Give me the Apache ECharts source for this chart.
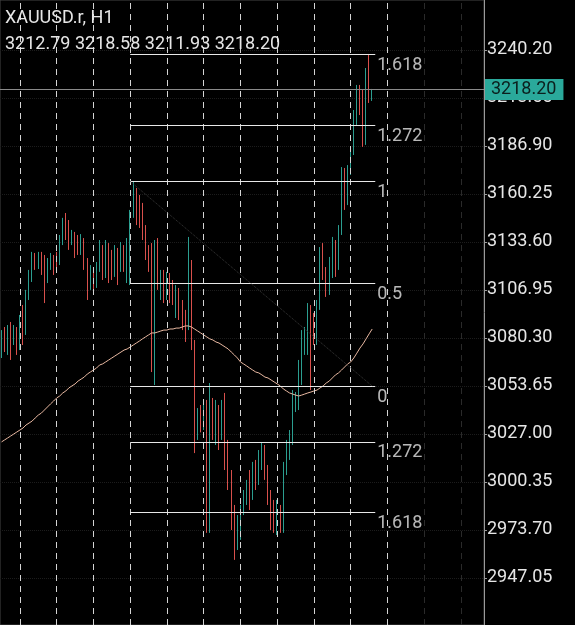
<!DOCTYPE html>
<html>
<head>
<meta charset="utf-8">
<script src="https://cdn.jsdelivr.net/npm/echarts@6/dist/echarts.min.js"></script>
<style>
  html, body { margin: 0; padding: 0; background: #000; }
  #chart { width: 575px; height: 625px; }
</style>
</head>
<body>
<div id="chart"></div>
<script>
(function () {
  const SYMBOL = "XAUUSD.r, H1";

  // H1 candles (oldest first)
  const opens = [
    3073.6,3082.0,3076.4,3083.6,3078.1,3084.7,3076.4,3090.3,3084.7,3104.2,
    3113.6,3124.7,3122.5,3126.4,3120.8,3112.5,3122.5,3124.7,3126.4,3122.5,
    3134.7,3144.7,3141.4,3134.7,3137.5,3134.7,3129.2,3134.7,3122.5,3109.7,
    3117.0,3109.7,3119.2,3126.4,3117.0,3129.2,3124.7,3117.0,3126.4,3119.2,
    3129.2,3122.5,3131.9,3148.6,3159.7,3154.1,3151.4,3140.3,3129.2,3122.5,
    3076.4,3115.3,3109.7,3113.6,3105.8,3112.5,3109.7,3101.4,3105.8,3098.6,
    3093.1,3087.5,3120.8,3076.4,3029.2,3037.5,3032.0,3040.3,2984.8,3045.9,
    3032.0,3040.3,3029.2,3040.3,3018.1,3001.5,2982.0,2965.4,2976.5,2984.8,
    2990.4,2995.9,2993.1,3007.0,3001.5,3012.6,3017.0,3007.0,2993.1,2983.7,
    2979.3,2984.8,2976.5,3007.0,3015.3,3023.7,3045.9,3047.0,3057.0,3073.6,
    3073.6,3095.9,3091.4,3079.2,3098.6,3126.4,3115.3,3105.8,3120.8,3129.2,
    3120.8,3140.3,3165.2,3156.9,3173.6,3184.7,3201.3,3216.9,3209.7,3190.2,
    3226.3,3212.79
  ];
  const closes = [
    3082.0,3076.4,3083.6,3078.1,3084.7,3076.4,3090.3,3084.7,3104.2,3113.6,
    3124.7,3122.5,3126.4,3118.1,3112.5,3122.5,3124.7,3119.2,3122.5,3134.7,
    3144.7,3141.4,3134.7,3137.5,3129.2,3131.9,3134.7,3122.5,3109.7,3117.0,
    3109.7,3119.2,3126.4,3117.0,3129.2,3120.8,3117.0,3126.4,3118.1,3129.2,
    3122.5,3131.9,3148.6,3159.7,3154.1,3148.6,3140.3,3129.2,3120.8,3076.4,
    3115.3,3111.4,3113.6,3105.8,3112.5,3104.2,3101.4,3105.8,3095.9,3090.3,
    3085.8,3120.8,3079.2,3029.2,3037.5,3032.0,3037.5,2990.4,3045.9,3032.0,
    3040.3,3029.2,3037.5,3018.1,3001.5,2979.3,2965.4,2976.5,2984.8,2990.4,
    2995.9,2990.4,3007.0,3001.5,3013.7,3018.1,3007.0,2993.1,2982.0,2979.3,
    2984.8,2978.2,3007.0,3015.3,3023.7,3045.9,3048.6,3057.0,3073.6,3082.0,
    3095.9,3076.4,3079.2,3098.6,3126.4,3115.3,3105.8,3120.8,3129.2,3120.8,
    3140.3,3165.2,3156.9,3173.6,3183.6,3201.3,3216.9,3206.9,3190.2,3226.3,
    3212.8,3218.20
  ];
  const lows = [
    3069.2,3072.5,3070.9,3068.1,3076.4,3070.9,3073.6,3076.4,3082.0,3101.4,
    3111.4,3118.1,3118.6,3115.3,3099.7,3110.8,3118.1,3115.3,3117.0,3120.8,
    3131.9,3134.7,3129.2,3131.9,3124.7,3126.4,3126.4,3118.1,3101.4,3107.0,
    3107.0,3108.1,3117.0,3112.5,3113.6,3110.8,3112.5,3114.2,3109.7,3117.0,
    3117.0,3110.8,3109.7,3147.0,3143.0,3141.4,3134.7,3123.6,3117.0,3061.4,
    3054.2,3107.0,3101.4,3099.7,3101.4,3099.7,3098.6,3091.4,3090.3,3084.7,
    3078.1,3084.7,3073.6,3016.4,3023.7,3027.9,3029.2,2972.1,2972.1,3023.7,
    3020.9,3018.1,3023.7,3007.0,2995.9,2973.7,2957.1,2962.6,2968.2,2982.0,
    2987.6,2984.8,2990.4,2995.9,2998.7,3007.0,3001.5,2987.6,2973.7,2972.1,
    2970.9,2972.1,2972.1,3004.2,3012.6,3020.9,3039.2,3040.3,3054.2,3070.9,
    3070.9,3051.4,3076.4,3076.4,3095.9,3112.5,3103.1,3104.2,3113.6,3114.2,
    3118.1,3137.5,3151.4,3154.1,3170.8,3181.9,3198.6,3204.1,3186.4,3187.5,
    3210.8,3211.93
  ];
  const highs = [
    3084.7,3086.4,3087.5,3089.2,3087.5,3086.4,3093.1,3098.6,3107.0,3118.1,
    3128.1,3127.5,3128.1,3128.1,3126.4,3124.7,3127.5,3126.4,3128.1,3137.5,
    3147.0,3149.7,3145.8,3140.3,3139.2,3137.5,3138.0,3135.8,3124.7,3120.8,
    3119.2,3122.5,3134.7,3131.9,3134.7,3133.0,3129.2,3131.9,3130.3,3133.6,
    3131.9,3135.8,3151.4,3166.9,3163.6,3159.7,3155.3,3143.0,3131.9,3133.0,
    3134.7,3135.8,3118.1,3118.1,3117.0,3116.4,3112.5,3109.7,3108.1,3101.4,
    3095.9,3136.4,3123.6,3079.2,3041.4,3043.1,3045.9,3045.9,3055.3,3047.0,
    3045.9,3043.1,3045.9,3049.8,3023.7,3007.0,2987.6,2982.0,2987.6,2995.9,
    3001.5,3007.0,3011.5,3012.6,3018.1,3022.0,3020.9,3009.8,2995.9,2990.4,
    2990.4,2987.6,3011.5,3023.7,3029.2,3051.4,3050.3,3068.1,3084.7,3086.4,
    3099.7,3098.6,3094.2,3101.4,3130.8,3133.0,3119.7,3125.3,3136.4,3134.7,
    3143.0,3175.2,3174.7,3176.3,3185.8,3206.9,3220.8,3220.8,3218.0,3230.2,
    3238.0,3218.58
  ];
  // moving average line as drawn on the chart
  const maValues = [
    3022.6,3023.7,3024.8,3025.9,3027.0,3028.1,3029.2,3030.3,3032.0,3033.1,
    3034.2,3035.9,3037.5,3038.6,3040.3,3042.0,3043.7,3045.3,3047.0,3048.1,
    3049.8,3050.9,3052.6,3053.7,3054.8,3056.4,3057.5,3058.6,3060.3,3061.4,
    3062.5,3063.6,3065.3,3065.9,3067.0,3068.1,3069.2,3070.3,3071.4,3072.5,
    3073.6,3074.2,3075.3,3076.4,3077.5,3078.6,3079.8,3080.9,3082.0,3083.1,
    3083.1,3083.6,3084.2,3084.7,3084.7,3085.3,3085.3,3085.8,3085.8,3086.4,
    3087.0,3087.0,3086.4,3085.3,3084.2,3083.1,3082.0,3080.9,3079.8,3079.2,
    3078.1,3077.5,3076.4,3075.3,3074.2,3072.5,3070.9,3069.2,3067.0,3065.9,
    3064.8,3063.6,3062.5,3061.4,3060.9,3059.8,3058.6,3058.1,3057.0,3055.9,
    3054.8,3053.7,3052.0,3050.9,3049.8,3049.2,3048.6,3048.1,3048.6,3049.2,
    3049.8,3050.3,3050.9,3051.4,3052.6,3053.7,3055.3,3056.4,3058.1,3059.8,
    3060.9,3062.5,3064.2,3065.9,3067.0,3069.2,3071.9,3074.7,3077.0,3079.8,
    3082.6,3085.3
  ];

  const priceTicks = [2947.05, 2973.70, 3000.35, 3027.00, 3053.65, 3080.30,
    3106.95, 3133.60, 3160.25, 3186.90, 3213.55, 3240.20];
  const Y_MIN = 2920.95, Y_MAX = 3267.96;
  const TOTAL_SLOTS = 158;          // bars + empty space on the right
  const sepIndices = [6, 18, 30, 42, 54, 66, 78, 90, 102, 114, 126];
  const sepFaint = [138, 150];

  // fibonacci tool
  const fibHigh = 3167.3, fibLow = 3053.6;
  const fibStart = 42, fibEnd = 122;
  const fibUp = [0, 0.5, 1, 1.272, 1.618];
  const fibDown = [1.272, 1.618];

  const FONT = "Roboto";
  const TEXT = "#e6e6e6";
  const UP = "#2b9e90", DOWN = "#d9504c";

  const cats = [];
  for (let i = 0; i < TOTAL_SLOTS; i++) cats.push(String(i));
  const candles = opens.map((o, i) => [o, closes[i], lows[i], highs[i]]);
  const last = candles.length - 1;

  const fibLevels = [];
  fibUp.forEach(r => fibLevels.push({ name: String(r), value: fibLow + r * (fibHigh - fibLow) }));
  fibDown.forEach(r => fibLevels.push({ name: String(r), value: fibHigh - r * (fibHigh - fibLow) }));

  const sepLines = sepIndices.map(i => ({ xAxis: i, lineStyle: { color: "#d4d4d4" } }))
    .concat(sepFaint.map(i => ({ xAxis: i, lineStyle: { color: "#2a2a2a" } })));

  const fibLines = fibLevels.map(f => [
    { coord: [fibStart, f.value] },
    { coord: [fibEnd, f.value] }
  ]);
  fibLines.push([
    { coord: [fibStart, fibHigh], lineStyle: { color: "#3a3a3a", type: "dotted" } },
    { coord: [fibEnd - 1, fibLow] }
  ]);

  const lastClose = closes[last];

  const chart = echarts.init(document.getElementById("chart"), null, { renderer: "canvas" });
  chart.setOption({
    backgroundColor: "#000",
    animation: false,
    title: [
      { text: SYMBOL, left: 5, top: 9, padding: 0,
        textStyle: { color: TEXT, fontFamily: FONT, fontSize: 18, fontWeight: "normal" } },
      { text: [opens[last], highs[last], lows[last], closes[last]].map(v => v.toFixed(2)).join(" "),
        left: 5, top: 35, padding: 0,
        textStyle: { color: TEXT, fontFamily: FONT, fontSize: 18, fontWeight: "normal" } }
    ],
    grid: { left: 0, right: 91, top: 0, bottom: 0, show: true, borderColor: "#444", borderWidth: 1 },
    xAxis: {
      type: "category",
      data: cats,
      boundaryGap: true,
      axisLine: { show: false },
      axisTick: { show: false },
      axisLabel: { show: false },
      splitLine: { show: false }
    },
    yAxis: {
      type: "value",
      position: "right",
      min: Y_MIN,
      max: Y_MAX,
      scale: true,
      axisLine: { show: true, lineStyle: { color: "#9a9a9a" } },
      axisTick: { show: true, length: 3, customValues: priceTicks, lineStyle: { color: "#9a9a9a" } },
      axisLabel: {
        customValues: priceTicks,
        margin: 3,
        color: TEXT,
        fontFamily: FONT,
        fontSize: 18,
        formatter: v => v.toFixed(2)
      },
      splitLine: { show: true, lineStyle: { color: "#1c1c1c", type: "dotted" } }
    },
    series: [
      {
        type: "candlestick",
        data: candles,
        barWidth: 1,
        itemStyle: {
          color: UP,
          color0: DOWN,
          borderColor: UP,
          borderColor0: DOWN,
          borderWidth: 1
        },
        markLine: {
          silent: true,
          symbol: ["none", "none"],
          label: { show: false },
          lineStyle: { type: [6, 5], width: 1 },
          data: sepLines
        },
        z: 2
      },
      {
        type: "line",
        data: maValues,
        showSymbol: false,
        symbol: "none",
        lineStyle: { color: "#e9b9a2", width: 1 },
        markLine: {
          silent: true,
          symbol: ["none", "none"],
          label: { show: false },
          lineStyle: { color: "#e8e8e8", type: "solid", width: 1 },
          data: fibLines.concat([
            {
              yAxis: lastClose,
              lineStyle: { color: "#8a8a8a", type: "solid", width: 1 },
              label: {
                show: true,
                position: "end",
                distance: 1,
                formatter: lastClose.toFixed(2),
                color: "#0b1f1d",
                fontFamily: FONT,
                fontSize: 18,
                backgroundColor: "#2aa99b",
                padding: [2, 7, 1, 6]
              }
            }
          ])
        },
        z: 4
      },
      {
        type: "scatter",
        symbolSize: 0,
        data: fibLevels.map(f => ({ value: [fibEnd, f.value], name: f.name })),
        label: {
          show: true,
          position: [2, 2],
          formatter: p => p.name,
          color: TEXT,
          fontFamily: FONT,
          fontSize: 18
        },
        silent: true,
        z: 5
      }
    ]
  });
})();
</script>
</body>
</html>
